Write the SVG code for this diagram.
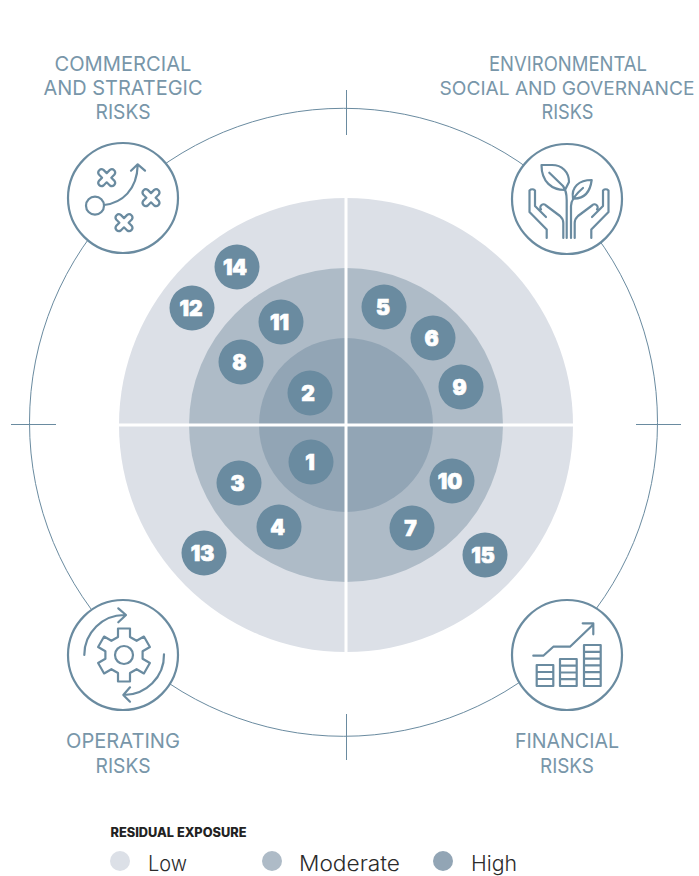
<svg xmlns="http://www.w3.org/2000/svg" width="699" height="876" viewBox="0 0 699 876">
<style>
.ln{fill:none;stroke:#6a8ba0;stroke-width:1}
.ic{fill:#fff;stroke:#6a8ba0;stroke-width:2.200}
.g{fill:none;stroke:#6a8ba0;stroke-width:2.200;stroke-linecap:round;stroke-linejoin:round}
.cat{font-family:Inter,"Liberation Sans",sans-serif;font-weight:400;font-size:20px;fill:#7896a9;text-anchor:middle}
.b{fill:#6a8ba0}
.n{font-family:Inter,"Liberation Sans",sans-serif;font-weight:900;font-size:21px;fill:#fff;stroke:#fff;stroke-width:.7;text-anchor:middle}
.lg{font-family:Inter,"Liberation Sans",sans-serif;font-weight:300;font-size:21px;fill:#2b2b2b}
</style>
<defs>
<path id="x" d="M-3.200-7.800 0-4.600 3.200-7.800A3.300 3.300 0 0 1 7.800-3.200L4.600 0 7.800 3.200A3.300 3.300 0 0 1 3.200 7.800L0 4.600-3.200 7.800A3.300 3.300 0 0 1-7.800 3.200L-4.600 0-7.800-3.200A3.300 3.300 0 0 1-3.200-7.800Z"/>
<g id="hand"><path d="M546.700 238V229.500L529.500 212V190.500A4 4 0 0 1 535 190.500V206L546 217M541 209.500A3 3 0 0 1 546 205.500L560 216Q563.300 219 563.300 223V238"/></g>
</defs>
<g id="zones">
<circle cx="346" cy="425" r="227" fill="#dce0e7"/>
<circle cx="346" cy="425" r="157" fill="#aebbc7"/>
<circle cx="346" cy="425" r="87" fill="#92a5b5"/>
<path d="M346 198V652M119 425H573" fill="none" stroke="#fff" stroke-width="3"/>
</g>
<g id="connectors">
<circle class="ln" cx="343.500" cy="422.300" r="314"/>
<path class="ln" d="M346.500 90V135M346.500 714V760M11 424.500H56M636 424.500H681"/>
</g>
<g id="commercial">
<circle class="ic" cx="123" cy="198" r="55"/>
<g class="g">
<circle cx="95" cy="205.700" r="9"/>
<path d="M104 205C122 203 137 190 137.700 165M131 170.700 137.700 164.300 145 170.700"/>
<use href="#x" x="106.700" y="177.700"/><use href="#x" x="151" y="197.700"/><use href="#x" x="124" y="222.700"/>
</g>
<text class="cat" x="123" y="70.500" textLength="137" lengthAdjust="spacingAndGlyphs">COMMERCIAL</text>
<text class="cat" x="123" y="95" textLength="159" lengthAdjust="spacingAndGlyphs">AND STRATEGIC</text>
<text class="cat" x="123" y="119" textLength="55" lengthAdjust="spacingAndGlyphs">RISKS</text>
</g>
<g id="esg">
<circle class="ic" cx="567" cy="199" r="55"/>
<g class="g">
<path d="M541.500 165H552C562 165 569 172 569 182L565 190C552 190 541.500 182 541.500 165ZM591.700 180C590 193 583 199 573 198.500C571 187 579 180 591.700 180ZM549.300 172.700 563 186Q566.700 191 566.700 200V238M571 238V206Q571 198 583 188"/>
<use href="#hand"/><use href="#hand" transform="translate(1138 0) scale(-1 1)"/>
</g>
<text class="cat" x="568" y="70.500" textLength="158" lengthAdjust="spacingAndGlyphs">ENVIRONMENTAL</text>
<text class="cat" x="567" y="95" font-size="18.800" style="font-size:18.800px" textLength="255" lengthAdjust="spacingAndGlyphs">SOCIAL AND GOVERNANCE</text>
<text class="cat" x="567.500" y="119" textLength="52" lengthAdjust="spacingAndGlyphs">RISKS</text>
</g>
<g id="operating">
<circle class="ic" cx="123" cy="655" r="55"/>
<g class="g">
<circle cx="124" cy="655" r="9"/>
<path transform="translate(124 655)" d="M-6-18V-26.500H6V-18L12.600-14.200 19.900-18.450 25.900-8.050 18.600-3.800V3.800L25.900 8.050 19.900 18.450 12.600 14.200 6 18V26.500H-6V18L-12.600 14.200-19.900 18.450-25.900 8.050-18.600 3.800V-3.800L-25.900-8.050-19.900-18.450-12.600-14.200Z"/>
<path d="M84.300 655A40 40 0 0 1 125 615M118.300 608.300 126 615 118.300 622.300M164 654.300A40 40 0 0 1 123.300 695M130 687.300 123.300 695 130 701.700"/>
</g>
<text class="cat" x="123" y="748" textLength="114" lengthAdjust="spacingAndGlyphs">OPERATING</text>
<text class="cat" x="123" y="773" textLength="55" lengthAdjust="spacingAndGlyphs">RISKS</text>
</g>
<g id="financial">
<circle class="ic" cx="567" cy="655" r="55"/>
<g class="g">
<path d="M533.300 655.700H543.300L553.300 646.700H570L592.700 625M582.700 623.300H593.300V634.300"/>
<path d="M536.700 665H553.300V686H536.700ZM536.700 672H553.300M536.700 679H553.300M560 659H576.700V686H560ZM560 665.700H576.700M560 672.500H576.700M560 679.200H576.700M584 645H600.700V686H584ZM584 651.800H600.700M584 658.600H600.700M584 665.400H600.700M584 672.200H600.700M584 679H600.700"/>
</g>
<text class="cat" x="567" y="748" textLength="104" lengthAdjust="spacingAndGlyphs">FINANCIAL</text>
<text class="cat" x="567" y="773" textLength="54" lengthAdjust="spacingAndGlyphs">RISKS</text>
</g>
<g id="r14"><circle class="b" cx="237" cy="267" r="22.500"/><text class="n" x="235" y="274.500">14</text></g>
<g id="r12"><circle class="b" cx="192" cy="308" r="22.500"/><text class="n" x="191" y="315.500">12</text></g>
<g id="r11"><circle class="b" cx="281" cy="322" r="22.500"/><text class="n" x="279.500" y="329.500">11</text></g>
<g id="r8"><circle class="b" cx="241" cy="362" r="22.500"/><text class="n" x="239.500" y="369.500">8</text></g>
<g id="r2"><circle class="b" cx="310" cy="393" r="22.500"/><text class="n" x="308" y="400.500">2</text></g>
<g id="r5"><circle class="b" cx="384" cy="307" r="22.500"/><text class="n" x="383" y="314.500">5</text></g>
<g id="r6"><circle class="b" cx="433" cy="338" r="22.500"/><text class="n" x="431.500" y="345.500">6</text></g>
<g id="r9"><circle class="b" cx="461" cy="387" r="22.500"/><text class="n" x="459.500" y="394.500">9</text></g>
<g id="r1"><circle class="b" cx="311" cy="462" r="22.500"/><text class="n" x="310" y="469.500">1</text></g>
<g id="r3"><circle class="b" cx="239" cy="483" r="22.500"/><text class="n" x="237.500" y="490.500">3</text></g>
<g id="r4"><circle class="b" cx="279" cy="527" r="22.500"/><text class="n" x="277.500" y="534.500">4</text></g>
<g id="r13"><circle class="b" cx="204" cy="553" r="22.500"/><text class="n" x="202.500" y="560.500">13</text></g>
<g id="r10"><circle class="b" cx="452" cy="481" r="22.500"/><text class="n" x="450" y="488.500">10</text></g>
<g id="r7"><circle class="b" cx="412" cy="528" r="22.500"/><text class="n" x="410.500" y="535.500">7</text></g>
<g id="r15"><circle class="b" cx="485" cy="555" r="22.500"/><text class="n" x="483" y="562.500">15</text></g>
<g id="legend">
<text x="110.500" y="837" font-family="Inter,'Liberation Sans',sans-serif" font-weight="800" font-size="12.500" fill="#222" textLength="136" lengthAdjust="spacingAndGlyphs">RESIDUAL EXPOSURE</text>
<circle cx="120" cy="861" r="10" fill="#dce0e7"/><text class="lg" x="148" y="871" textLength="39" lengthAdjust="spacingAndGlyphs">Low</text>
<circle cx="272" cy="861" r="10" fill="#aebbc7"/><text class="lg" x="299" y="871" textLength="101" lengthAdjust="spacingAndGlyphs">Moderate</text>
<circle cx="443" cy="861" r="10" fill="#92a5b5"/><text class="lg" x="471" y="871" textLength="46" lengthAdjust="spacingAndGlyphs">High</text>
</g>
</svg>
